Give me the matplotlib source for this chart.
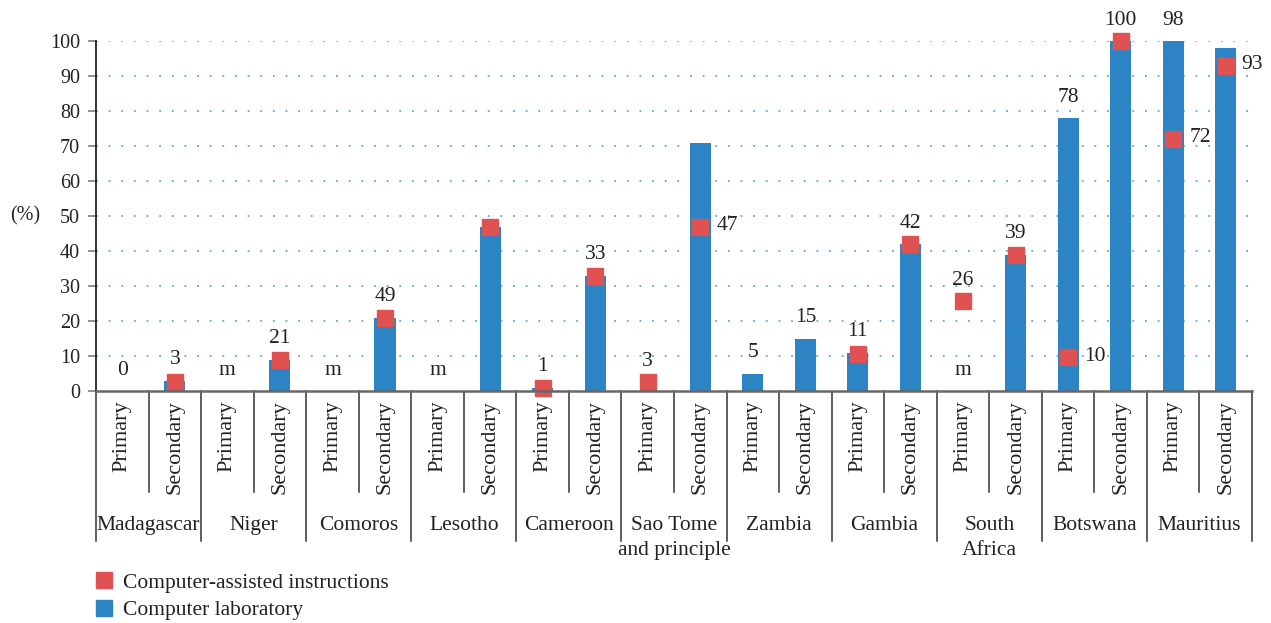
import numpy as np
import matplotlib.pyplot as plt
from matplotlib.lines import Line2D

plt.rcParams["font.family"] = ["Liberation Serif", "DejaVu Serif"]

countries = ["Madagascar", "Niger", "Comoros", "Lesotho", "Cameroon",
             "Sao Tome\nand principle", "Zambia", "Gambia", "South\nAfrica",
             "Botswana", "Mauritius"]
levels = ["Primary", "Secondary"]

nan = np.nan
# computer laboratory (bars), one value per country/level
lab = [0, 3, nan, 9, nan, 21, nan, 47, 1, 33, nan, 71,
       5, 15, 11, 42, nan, 39, 78, 100, 100, 98]
# computer-assisted instructions (square markers)
cai = [nan, 2.6, nan, 9, nan, 21, nan, 47, 1, 33, 2.5, 47,
       nan, nan, 10.5, 42, 25.6, 39, 9.6, 100, 72, 93]
# text printed above each column, and next to some markers
top_labels = ["0", "3", "", "21", "", "49", "", "", "1", "33", "3", "",
              "5", "15", "11", "42", "26", "39", "78", "100", "98", ""]
side_labels = ["", "", "", "", "", "", "", "", "", "", "", "47",
               "", "", "", "", "", "", "10", "", "72", "93"]
missing = [False, False, True, False, True, False, True, False, False, False, False, False,
           False, False, False, False, True, False, False, False, False, False]

BLUE = "#2c84c4"
RED = "#e05252"
TXT = "#222222"
W, H = 1271, 623

fig = plt.figure(figsize=(W / 100, H / 100), dpi=100)
ax = fig.add_axes([96 / W, 1 - 391 / H, (1252 - 96) / W, 350 / H])

x = np.arange(len(lab))
ax.bar(x, lab, width=0.4, color=BLUE, zorder=2)
ax.plot(x, cai, linestyle="none", marker="s", markersize=12, color=RED,
        zorder=3, clip_on=False)

for yv in range(10, 101, 10):
    ax.axhline(yv, color="#5aa9dd", linestyle=(0, (1, 6)), linewidth=1.3, zorder=1)

ax.set_xlim(-0.5, len(lab) - 0.5)
ax.set_ylim(0, 100)
ax.set_yticks(range(0, 101, 10))
ax.set_xticks([])
ax.tick_params(axis="y", direction="out", length=5.5, width=1.3, color="#888888",
               labelsize=14.5, pad=6, labelcolor=TXT)
for side in ["top", "right"]:
    ax.spines[side].set_visible(False)
ax.spines["left"].set_color(TXT)
ax.spines["left"].set_linewidth(1.3)
ax.spines["bottom"].set_color("#666666")
ax.spines["bottom"].set_linewidth(1.8)
ax.spines["bottom"].set_zorder(4)

ax.text(-0.0614, 0.5, "(%)", transform=ax.transAxes, ha="center", va="center",
        fontsize=14.5, color=TXT)

# value labels
for i in range(len(lab)):
    base = np.nanmax([0 if np.isnan(lab[i]) else lab[i],
                      0 if np.isnan(cai[i]) else cai[i]])
    if top_labels[i]:
        ax.annotate(top_labels[i], (i, base), xytext=(0, 15), textcoords="offset points",
                    ha="center", va="center", fontsize=15.5, color=TXT)
    if missing[i]:
        ax.annotate("m", (i, 0), xytext=(0, 15), textcoords="offset points",
                    ha="center", va="center", fontsize=15.5, color=TXT)
    if side_labels[i]:
        ax.annotate(side_labels[i], (i, cai[i]), xytext=(11.5, 1), textcoords="offset points",
                    ha="left", va="center", fontsize=15.5, color=TXT)

# two-level category axis
trans = ax.get_xaxis_transform()
y_sub = (391 - 492) / 350
y_grp = (391 - 541) / 350
for b in np.arange(-0.5, len(lab), 2):
    ax.plot([b, b], [0, y_grp], transform=trans, color="#333333", linewidth=1.1,
            clip_on=False)
for b in np.arange(0.5, len(lab), 2):
    ax.plot([b, b], [0, y_sub], transform=trans, color="#333333", linewidth=1.1,
            clip_on=False)
for i in range(len(lab)):
    ax.text(i, -0.027, levels[i % 2], rotation=90, transform=trans, ha="center",
            va="top", fontsize=16, color=TXT)
for g, name in enumerate(countries):
    ax.text(2 * g + 0.5, -0.357, name, transform=trans, ha="center", va="top",
            fontsize=15.5, color=TXT, linespacing=1.4)

handles = [
    Line2D([], [], linestyle="none", marker="s", markersize=11, color=RED,
           label="Computer-assisted instructions"),
    Line2D([], [], linestyle="none", marker="s", markersize=11, color=BLUE,
           label="Computer laboratory"),
]
fig.legend(handles=handles, loc="upper left", bbox_to_anchor=(85 / W, 1 - 562 / H),
           frameon=False, fontsize=15.5, handlelength=0.8, handletextpad=0.45,
           labelspacing=0.35, borderpad=0, labelcolor=TXT)

fig.savefig("out.png", dpi=100)
